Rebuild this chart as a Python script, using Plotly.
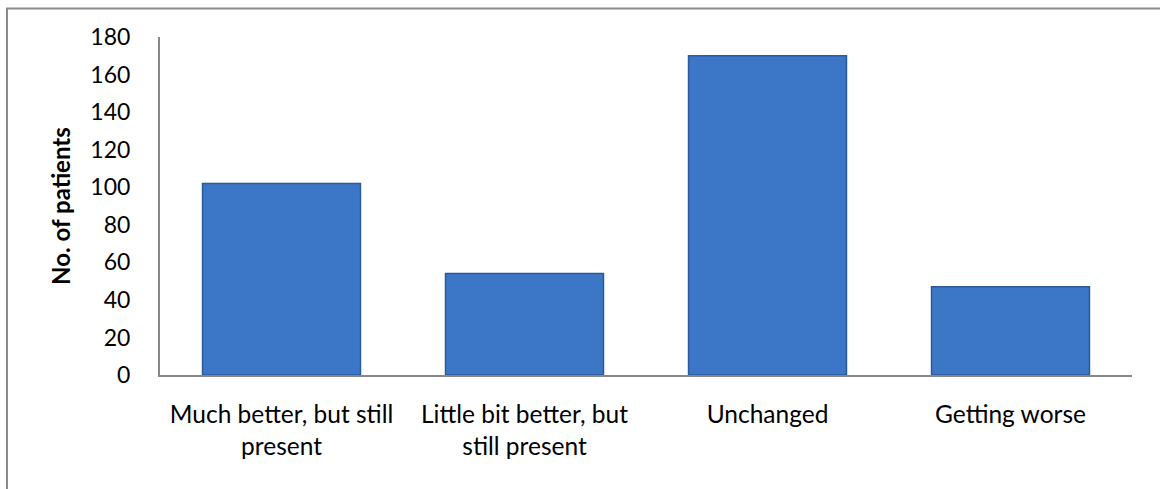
import plotly.graph_objects as go

# Patient-reported change in symptoms
categories = [
    "Much better, but still<br>present",
    "Little bit better, but<br>still present",
    "Unchanged",
    "Getting worse",
]
patients = [102, 54, 170, 47]
y_ticks = [0, 20, 40, 60, 80, 100, 120, 140, 160, 180]

FONT = "Lato, 'Open Sans', sans-serif"

fig = go.Figure(
    go.Bar(
        x=categories,
        y=patients,
        marker=dict(color="#3b77c6", line=dict(color="#2b5a9c", width=1.5)),
        width=0.65,
        hoverinfo="x+y",
    )
)

fig.update_layout(
    width=1160,
    height=489,
    margin=dict(l=160, r=28, t=37, b=114),
    paper_bgcolor="white",
    plot_bgcolor="white",
    showlegend=False,
    font=dict(family=FONT, size=23, color="black"),
    xaxis=dict(
        showline=True,
        linecolor="#888888",
        linewidth=2,
        showgrid=False,
        ticks="",
        tickfont=dict(size=24.5),
        ticklabelstandoff=17,
    ),
    yaxis=dict(
        range=[0, 180],
        tickvals=y_ticks,
        showline=True,
        linecolor="#888888",
        linewidth=2,
        showgrid=False,
        zeroline=False,
        ticks="",
        tickfont=dict(size=23),
        ticklabelstandoff=23,
    ),
    annotations=[
        dict(
            text="<b>No. of patients</b>",
            textangle=-90,
            xref="paper",
            yref="paper",
            x=-0.103,
            y=0.5,
            xanchor="center",
            yanchor="middle",
            showarrow=False,
            font=dict(size=24, family=FONT),
        )
    ],
    shapes=[
        dict(
            type="rect",
            xref="paper",
            yref="paper",
            x0=-0.1574,
            x1=1.05,
            y0=-0.4,
            y1=1.0843,
            line=dict(color="#8a8a8a", width=2),
            fillcolor="rgba(0,0,0,0)",
            layer="below",
        )
    ],
)

fig.write_html("out.html")
